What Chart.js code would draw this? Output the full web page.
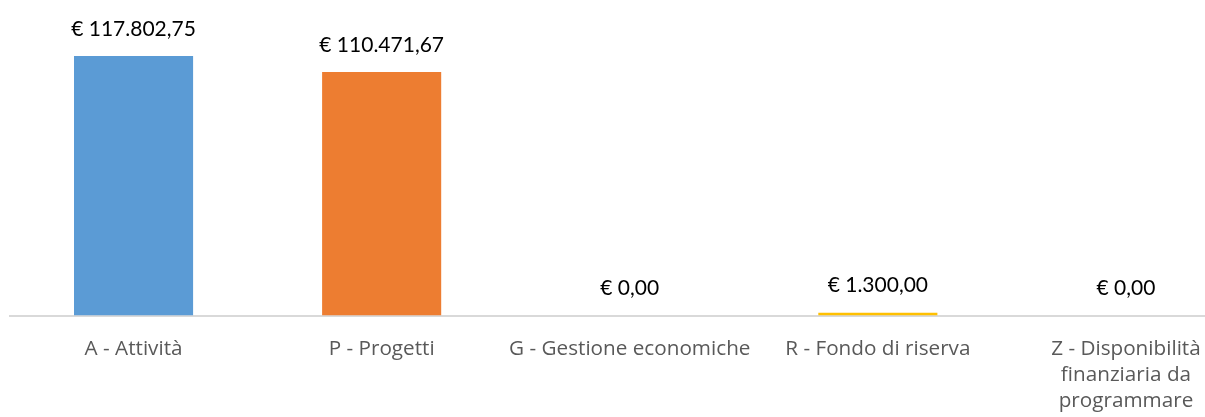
<!DOCTYPE html>
<html>
<head>
<meta charset="utf-8">
<script src="https://cdn.jsdelivr.net/npm/chart.js@4/dist/chart.umd.min.js"></script>
<style>
  html, body { margin: 0; padding: 0; overflow: hidden; background: #fff; }
  #wrap { width: 1250px; height: 417px; }
</style>
</head>
<body>
<div id="wrap"><canvas id="myChart"></canvas></div>
<script>
// categories and values
const categories = [
    "A - Attività",
    "P - Progetti",
    "G - Gestione economiche",
    "R - Fondo di riserva",
    ["Z - Disponibilità", "finanziaria da", "programmare"]
];
const amounts = [117802.75, 110471.67, 0, 1300, 0];
const barColors = ["#5B9BD5", "#ED7D31", "#A5A5A5", "#FFC000", "#4472C4"];

// "€ 1.300,00" style
function euro(v) {
    const parts = v.toFixed(2).split(".");
    const intPart = parts[0].replace(/\B(?=(\d{3})+(?!\d))/g, ".");
    return "€ " + intPart + "," + parts[1];
}

// draws the value above every bar
const valueLabels = {
    id: "valueLabels",
    afterDatasetsDraw(chart) {
        const ctx = chart.ctx;
        const meta = chart.getDatasetMeta(0);
        ctx.save();
        ctx.font = "21px Lato";
        ctx.fillStyle = "#000000";
        ctx.textAlign = "center";
        ctx.textBaseline = "middle";
        meta.data.forEach((bar, i) => {
            ctx.fillText(euro(amounts[i]), bar.x, bar.y - 27);
        });
        ctx.restore();
    }
};

const ctx = document.getElementById("myChart").getContext("2d");
const chart = new Chart(ctx, {
    type: "bar",
    data: {
        labels: categories,
        datasets: [
            {
                data: amounts,
                backgroundColor: barColors,
                borderWidth: 0,
                barPercentage: 0.48,
                categoryPercentage: 1
            }
        ]
    },
    options: {
        responsive: true,
        maintainAspectRatio: false,
        animation: false,
        layout: { padding: { left: 9.5, right: 0, top: 7, bottom: 0 } },
        plugins: {
            legend: { display: false },
            tooltip: { enabled: false }
        },
        scales: {
            x: {
                grid: { display: false, drawTicks: false },
                border: { display: true, color: "#D9D9D9", width: 2 },
                ticks: {
                    color: "#595959",
                    font: { family: "'Open Sans'", size: 20.7, lineHeight: 1.27 },
                    padding: 20,
                    maxRotation: 0,
                    autoSkip: false
                },
                afterFit(scale) { scale.height = 101.5; }
            },
            y: {
                display: false,
                min: 0,
                max: 140000
            }
        }
    },
    plugins: [valueLabels]
});
</script>
</body>
</html>
